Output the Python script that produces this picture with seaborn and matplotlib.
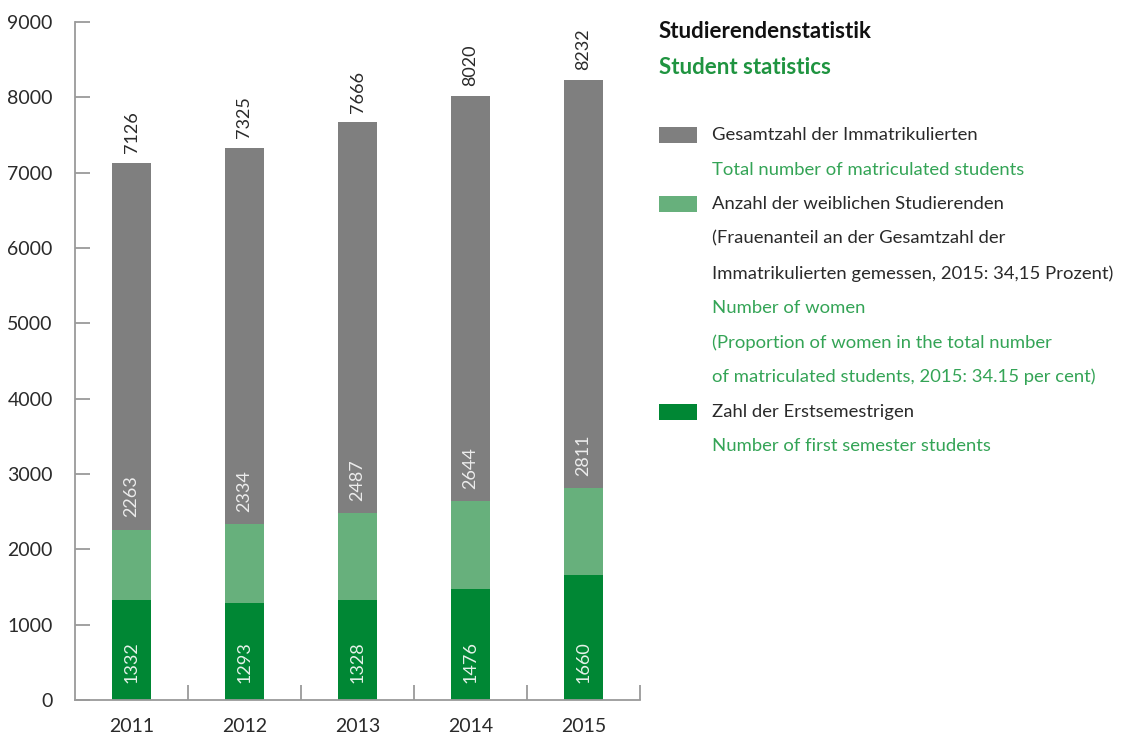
import matplotlib
matplotlib.use("Agg")
import matplotlib.pyplot as plt
import seaborn as sns
import numpy as np
import pandas as pd
from matplotlib.patches import Rectangle

years = ["2011", "2012", "2013", "2014", "2015"]
total = [7126, 7325, 7666, 8020, 8232]
women = [2263, 2334, 2487, 2644, 2811]
first_sem = [1332, 1293, 1328, 1476, 1660]
yticks = [0, 1000, 2000, 3000, 4000, 5000, 6000, 7000, 8000, 9000]

title_de = "Studierendenstatistik"
title_en = "Student statistics"
legend_items = [
    ("#7f7f7f", ["Gesamtzahl der Immatrikulierten"],
     ["Total number of matriculated students"]),
    ("#67b07c", ["Anzahl der weiblichen Studierenden",
                 "(Frauenanteil an der Gesamtzahl der",
                 "Immatrikulierten gemessen, 2015: 34,15 Prozent)"],
     ["Number of women",
      "(Proportion of women in the total number",
      "of matriculated students, 2015: 34.15 per cent)"]),
    ("#008734", ["Zahl der Erstsemestrigen"],
     ["Number of first semester students"]),
]

C_GRAY = "#7f7f7f"
C_LIGHT = "#67b07c"
C_DARK = "#008734"
C_AXIS = "#9a9a9a"
C_TEXT = "#2a2a2a"
C_GREEN_TXT = "#34a456"
C_GREEN_TITLE = "#1f9440"

sns.set_theme(style="white")
plt.rcParams["font.family"] = ["Lato", "DejaVu Sans"]

fig = plt.figure(figsize=(11.26, 7.33), dpi=100)
ax = fig.add_axes([75 / 1126, 33 / 733, 565 / 1126, 678 / 733])

df = pd.DataFrame({"year": years, "total": total, "women": women, "first": first_sem})
sns.barplot(data=df, x="year", y="total", color=C_GRAY, width=0.35, saturation=1,
            linewidth=0, ax=ax)
sns.barplot(data=df, x="year", y="women", color=C_LIGHT, width=0.35, saturation=1,
            linewidth=0, ax=ax)
sns.barplot(data=df, x="year", y="first", color=C_DARK, width=0.35, saturation=1,
            linewidth=0, ax=ax)

ax.set_xlim(-0.5, 4.5)
ax.set_ylim(0, 9000)
ax.set_xlabel("")
ax.set_ylabel("")
ax.set_yticks(yticks)
ax.set_yticklabels([str(v) for v in yticks])
ax.set_xticks(range(len(years)))
ax.set_xticklabels(years)
ax.set_xticks([i + 0.5 for i in range(len(years))], minor=True)

for s in ["top", "right"]:
    ax.spines[s].set_visible(False)
for s in ["left", "bottom"]:
    ax.spines[s].set_color(C_AXIS)
    ax.spines[s].set_linewidth(1.3)

ax.tick_params(axis="y", direction="in", length=11, width=1.3, color=C_AXIS,
               labelsize=14, labelcolor=C_TEXT, pad=16, left=True)
ax.tick_params(axis="x", which="major", length=0, labelsize=14,
               labelcolor=C_TEXT, pad=13, bottom=True)
ax.tick_params(axis="x", which="minor", direction="in", length=11, width=1.3,
               color=C_AXIS, bottom=True)

for i in range(len(years)):
    ax.text(i, total[i] + 130, str(total[i]), rotation=90, ha="center", va="bottom",
            fontsize=13, color=C_TEXT)
    ax.text(i, women[i] + 160, str(women[i]), rotation=90, ha="center", va="bottom",
            fontsize=13, color="#ececec")
    ax.text(i, 230, str(first_sem[i]), rotation=90, ha="center", va="bottom",
            fontsize=13, color="#e6f2ea")

W, H = 1126, 733
fig.text(659 / W, 1 - 31 / H, title_de, fontsize=16, fontweight="bold",
         color="#111111", va="center", ha="left")
fig.text(659 / W, 1 - 67 / H, title_en, fontsize=16, fontweight="bold",
         color=C_GREEN_TITLE, va="center", ha="left")

y = 135
step = 34.6
for color, de_lines, en_lines in legend_items:
    fig.patches.append(Rectangle((659 / W, 1 - (y + 8) / H), 38 / W, 16 / H,
                                 transform=fig.transFigure, color=color, lw=0))
    for ln in de_lines:
        fig.text(712 / W, 1 - y / H, ln, fontsize=13.3, color=C_TEXT,
                 va="center", ha="left")
        y += step
    for ln in en_lines:
        fig.text(712 / W, 1 - y / H, ln, fontsize=13.3, color=C_GREEN_TXT,
                 va="center", ha="left")
        y += step

fig.savefig("out.png", dpi=100)
